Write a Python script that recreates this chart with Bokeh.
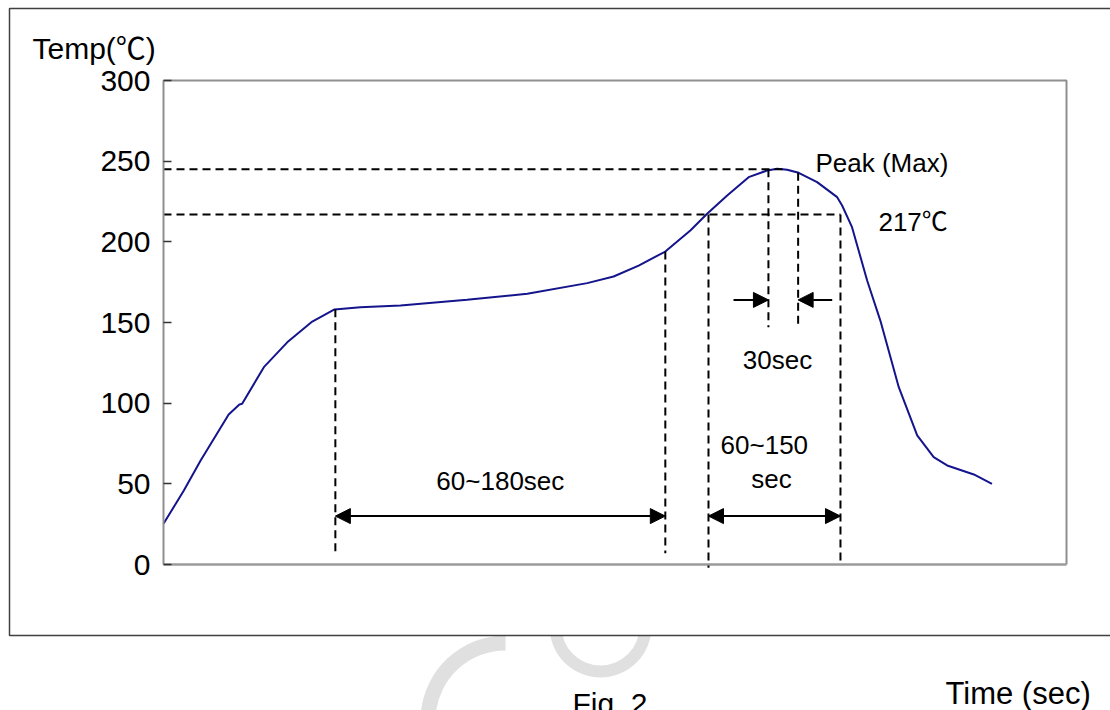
import numpy as np
from bokeh.plotting import figure
from bokeh.models import Range1d, FixedTicker, Arrow, NormalHead, ColumnDataSource
from bokeh.core.properties import value
from bokeh.embed import file_html
from bokeh.resources import INLINE

# ---------------- data ----------------
time_s = [0.0, 7.4, 13.5, 23.7, 27.6, 28.6, 36.5, 45.0, 54.1, 62.2, 71.6, 86.2,
          110.4, 132.3, 154.1, 163.7, 172.8, 182.5, 191.6, 197.7, 205.0, 212.8,
          219.5, 223.2, 226.8, 231.0, 237.7, 245.0, 246.8, 250.4, 255.9, 260.7,
          267.4, 274.1, 280.1, 285.0, 294.7, 301.3]
temp_c = [25.2, 45.9, 64.5, 93.0, 99.2, 99.6, 122.3, 137.7, 150.6, 158.1, 159.5, 160.5,
          164.1, 167.8, 174.4, 178.5, 185.3, 194.0, 207.0, 217.4, 228.7, 240.1,
          244.2, 245.3, 244.7, 242.8, 237.0, 227.7, 222.5, 209.1, 176.0, 151.2,
          109.9, 80.0, 66.5, 61.4, 55.8, 50.0]
y_ticks = [0, 50, 100, 150, 200, 250, 300]
y_limits = [0, 300]
t_limits = [0, 328.4]

peak_temp = 245
liquidus_temp = 217
soak_window = [62.5, 182.5]        # 60~180 sec
liquidus_window = [198.2, 246.2]   # 60~150 sec
peak_window = [220.0, 230.8]       # 30 sec
peak_time = 226.5

label_soak = "60~180sec"
label_liq = ["60~150", "sec"]
label_peak_win = "30sec"
label_peak = "Peak (Max)"
label_217 = "217℃"
label_y = "Temp(℃)"
label_x = "Time (sec)"
label_fig = "Fig. 2"

# ---------------- page geometry (pixels) ----------------
W, H = 1110, 710
AX_L, AX_R, AX_T, AX_B = 163, 1066, 80, 564          # chart box in pixels
kx = (AX_R - AX_L) / (t_limits[1] - t_limits[0])      # px per second
ky = (AX_B - AX_T) / (y_limits[1] - y_limits[0])      # px per degree

def tx(px):
    return t_limits[0] + (px - AX_L) / kx

def ty(py):
    return y_limits[0] + (AX_B - py) / ky

FONT = "Liberation Sans, Arial, Noto Sans CJK SC"
p = figure(width=W, height=H, x_range=Range1d(tx(0), tx(W)), y_range=Range1d(ty(H), ty(0)),
           output_backend="svg", toolbar_location=None,
           min_border=0, min_border_left=0, min_border_right=0,
           min_border_top=0, min_border_bottom=0)
p.title.visible = False
p.background_fill_color = "white"
p.border_fill_color = "white"
p.grid.visible = False
p.outline_line_color = None
p.xaxis.visible = False

# watermark (light grey rings behind the outer box)
p.annular_wedge(x=[tx(505)], y=[ty(720)], inner_radius=70, outer_radius=85,
                inner_radius_units="screen", outer_radius_units="screen",
                start_angle=np.pi / 2, end_angle=np.pi * 1.45,
                fill_color="#e0e0e0", line_color=None)
p.annulus(x=[tx(600)], y=[ty(626)], inner_radius=39, outer_radius=51,
          inner_radius_units="screen", outer_radius_units="screen",
          fill_color="#e0e0e0", line_color=None)

# outer box (white, covers the watermark)
p.quad(left=[tx(9)], right=[tx(W + 20)], top=[ty(8)], bottom=[ty(635)],
       fill_color="white", line_color="#404040", line_width=1.5)

# inner chart box: top, right, bottom
p.line([t_limits[0], t_limits[1], t_limits[1]], [y_limits[1], y_limits[1], y_limits[0]],
       line_color="#8f8f8f", line_width=2)
p.line([t_limits[0], t_limits[1]], [y_limits[0], y_limits[0]],
       line_color="#9a9a9a", line_width=2.5)

ya = p.yaxis[0]
ya.fixed_location = t_limits[0]
ya.bounds = (y_limits[0], y_limits[1])
ya.ticker = FixedTicker(ticks=y_ticks)
ya.axis_line_color = "#8f8f8f"
ya.axis_line_width = 2
ya.major_tick_in = 8
ya.major_tick_out = 0
ya.major_tick_line_color = "#333333"
ya.major_tick_line_width = 1.5
ya.minor_tick_line_color = None
ya.major_label_text_font = FONT
ya.major_label_text_font_size = "30px"
ya.major_label_text_color = "black"
ya.major_label_standoff = 13

# profile curve
p.line(time_s, temp_c, line_color="#14148c", line_width=2)

# dashed guide lines
def temp_at(t):
    return float(np.interp(t, time_s, temp_c))

x0 = [t_limits[0], t_limits[0],
      soak_window[0], soak_window[1],
      liquidus_window[0], liquidus_window[1],
      peak_window[0], peak_window[1]]
y0 = [peak_temp, liquidus_temp,
      temp_at(soak_window[0]), temp_at(soak_window[1]),
      liquidus_temp, liquidus_temp,
      peak_temp, temp_at(peak_window[1])]
x1 = [peak_time, liquidus_window[1],
      soak_window[0], soak_window[1],
      liquidus_window[0], liquidus_window[1],
      peak_window[0], peak_window[1]]
y1 = [peak_temp, liquidus_temp,
      7, 7,
      -2, 0,
      147, 147]
p.segment(x0=x0, y0=y0, x1=x1, y1=y1, line_color="black", line_width=2, line_dash="8 5")

# dimension arrows
def head():
    return NormalHead(size=15, fill_color="black", line_color="black")

arrow_temp = 30
for a, b in (soak_window, liquidus_window):
    p.add_layout(Arrow(x_start=a, y_start=arrow_temp, x_end=b, y_end=arrow_temp,
                       start=head(), end=head(), line_width=2, line_color="black"))
pk_arrow_temp = 164
p.add_layout(Arrow(x_start=peak_window[0] - 12.7, y_start=pk_arrow_temp,
                   x_end=peak_window[0], y_end=pk_arrow_temp,
                   end=head(), line_width=2, line_color="black"))
p.add_layout(Arrow(x_start=peak_window[1] + 12.4, y_start=pk_arrow_temp,
                   x_end=peak_window[1], y_end=pk_arrow_temp,
                   end=head(), line_width=2, line_color="black"))

# texts inside the chart
txt = ColumnDataSource(dict(
    x=[sum(soak_window) / 2, 218.5, 221.1, 223.3],
    y=[52, 73.8, 53.3, 126.5],
    t=[label_soak, label_liq[0], label_liq[1], label_peak_win],
))
p.text(x="x", y="y", text="t", source=txt, text_font=value(FONT), text_font_size="26px",
       text_align="center", text_baseline="middle", text_color="black")
txt2 = ColumnDataSource(dict(x=[237.1, 260.0], y=[248.6, 212.0], t=[label_peak, label_217]))
p.text(x="x", y="y", text="t", source=txt2, text_font=value(FONT), text_font_size="26px",
       text_align="left", text_baseline="middle", text_color="black")

# axis title and captions
p.text(x=[tx(32)], y=[ty(48)], text=[label_y], text_font=value(FONT), text_font_size="30px",
       text_align="left", text_baseline="middle", text_color="black")
p.text(x=[tx(945)], y=[ty(693)], text=[label_x], text_font=value(FONT), text_font_size="31px",
       text_align="left", text_baseline="middle", text_color="black")
p.text(x=[tx(572)], y=[ty(703)], text=[label_fig], text_font=value(FONT), text_font_size="30px",
       text_align="left", text_baseline="alphabetic", text_color="black")

open("out.html", "w").write(file_html(p, INLINE))
